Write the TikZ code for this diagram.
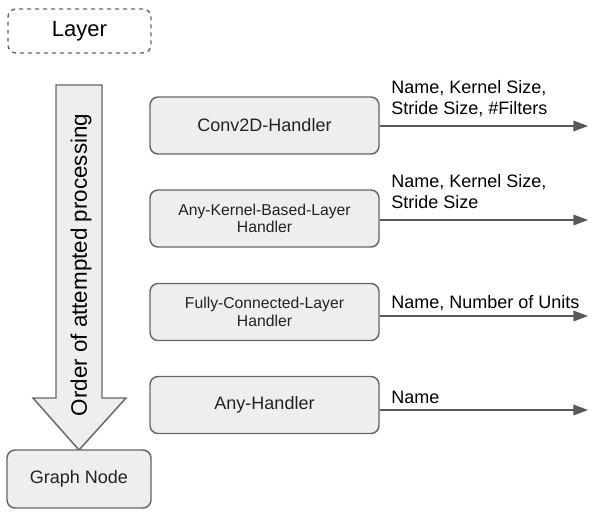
\documentclass[tikz,border=0pt]{standalone}
\usepackage{fontspec}
\setmainfont{Liberation Sans}
\usetikzlibrary{arrows.meta}
\definecolor{boxfill}{HTML}{EEEEEE}
\definecolor{boxline}{HTML}{666666}
\definecolor{flowline}{HTML}{595959}
\definecolor{boxtext}{HTML}{222222}

\begin{document}
\begin{tikzpicture}[x=0.75pt, y=-0.75pt,
		handler/.style={draw=boxline, fill=boxfill, line width=1.1pt, rounded corners=6pt, text=boxtext, minimum width=171.75pt, minimum height=42.75pt, align=center, font=\fontsize{13.5}{16}\selectfont},
		smallhandler/.style={handler, font=\fontsize{11.8}{13}\selectfont},
		result/.style={draw=flowline, line width=1.1pt, -{Triangle[length=11pt,width=8pt]}},
		outlabel/.style={anchor=base west, align=left, inner sep=0pt, font=\fontsize{13.5}{15.75}\selectfont}]
		\useasboundingbox (0,0) rectangle (598,515);

		\node[draw=boxline, dashed, line width=1.1pt, rounded corners=6pt, minimum width=107.25pt, minimum height=33pt, font=\fontsize{16.5}{20}\selectfont] (layer) at (79.5, 31) {Layer};

		\draw[draw=boxline, fill=boxfill, line width=1.1pt] (56,85) -- (102,85) -- (102,398) -- (126,398) -- (79,450) -- (33,398) -- (56,398) -- cycle;
		\node[rotate=90, font=\fontsize{16.8}{20}\selectfont] (order) at (81, 265) {Order of attempted processing};

		\node[handler] (conv) at (264.5, 125.5) {Conv2D-Handler};
		\node[smallhandler] (kernel) at (264.5, 218.5) {Any-Kernel-Based-Layer\\Handler};
		\node[smallhandler] (dense) at (264.5, 312) {Fully-Connected-Layer\\Handler};
		\node[handler] (any) at (264.5, 405) {Any-Handler};
		\node[handler, minimum width=108pt, minimum height=43.5pt] (graph) at (79, 479) {Graph Node};

		\coordinate (convout) at (588, 126);
		\coordinate (kernelout) at (588, 220);
		\coordinate (denseout) at (588, 316);
		\coordinate (anyout) at (588, 410);

		\path (conv.east |- convout) edge[result] (convout)
		(kernel.east |- kernelout) edge[result] (kernelout)
		(dense.east |- denseout) edge[result] (denseout)
		(any.east |- anyout) edge[result] (anyout);

		\node[outlabel] (convinfo) at (391, 114) {Name, Kernel Size,\\Stride Size, \#Filters};
		\node[outlabel] (kernelinfo) at (391, 208) {Name, Kernel Size,\\Stride Size};
		\node[outlabel] (denseinfo) at (391, 308) {Name, Number of Units};
		\node[outlabel] (anyinfo) at (391, 403) {Name};
	\end{tikzpicture}
\end{document}
